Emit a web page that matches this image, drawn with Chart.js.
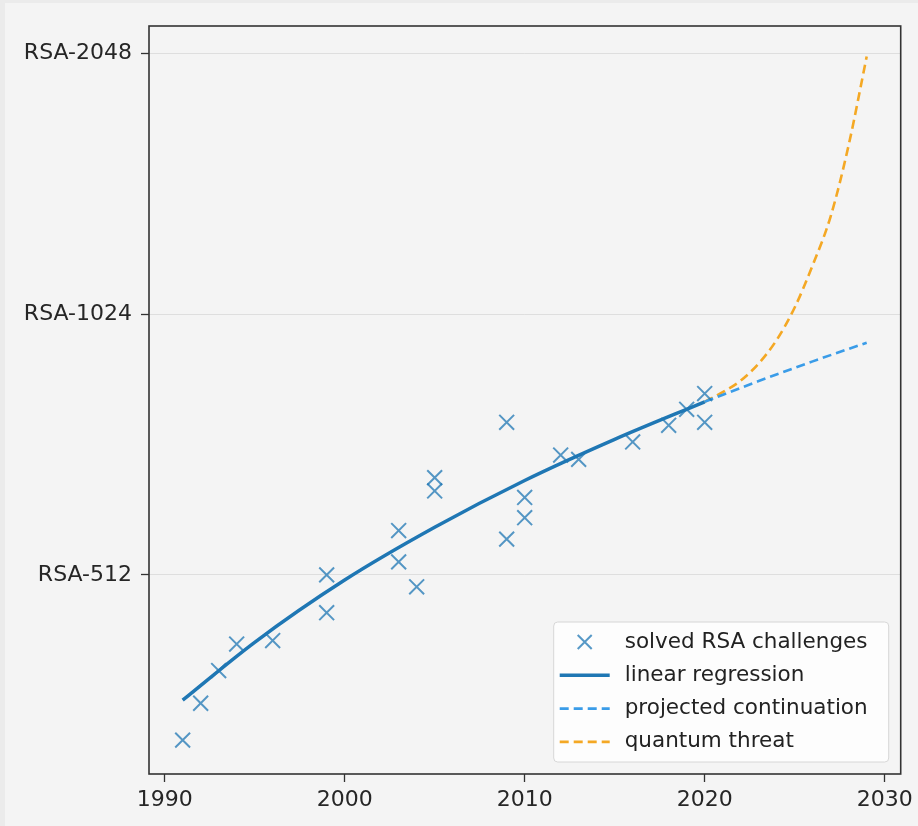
<html>
<head>
  <script src="https://cdn.jsdelivr.net/npm/chart.js@4.4.1/dist/chart.umd.min.js"></script>
  <style>
    body { margin:0; background:#ebebeb; }
    #wrap { position:absolute; left:5px; top:3px; width:913px; height:823px; background:#f4f4f4; }
  </style>
</head>
<body>
  <div id="wrap"><canvas id="rsa" width="913" height="823"></canvas></div>

  <script>
  // solved RSA challenges (year, key size in bits)
  var solvedYears = [1991, 1992, 1993, 1994, 1996, 1999, 1999, 2003, 2003, 2004, 2005, 2005,
                     2009, 2009, 2010, 2010, 2012, 2013, 2016, 2018, 2019, 2020, 2020];
  var solvedBits  = [330, 364, 397, 426, 430, 463, 512, 530, 576, 496, 663, 640,
                     768, 563, 596, 629, 704, 696, 729, 762, 795, 829, 768];

  // regression line
  var regYears = [1991, 1995, 2000, 2005, 2010, 2015, 2020];
  var regBits  = [367, 428, 505, 581, 658, 734, 811];

  // projected continuation
  var projYears = [2020, 2023, 2026, 2029];
  var projBits  = [811, 857, 903, 949];

  // quantum threat
  var qYears = [2020, 2021, 2022, 2023, 2024, 2025, 2026, 2027, 2028, 2029];
  var qBits  = [811, 832, 858, 898, 956, 1042, 1166, 1328, 1605, 2030];

  var yTickValues = [512, 1024, 2048];
  var yTickLabels = ['RSA-512', 'RSA-1024', 'RSA-2048'];
  var xTickValues = [1990, 2000, 2010, 2020, 2030];

  function pts(xs, ys) {
    return xs.map(function (x, i) { return {x: x, y: ys[i]}; });
  }

  var FONT = 'DejaVu Sans';

  // axes frame on all four sides
  var frame = {
    id: 'frame',
    afterDraw: function (chart) {
      var a = chart.chartArea, ctx = chart.ctx;
      ctx.save();
      ctx.strokeStyle = '#333';
      ctx.lineWidth = 1.6;
      ctx.strokeRect(a.left, a.top, a.right - a.left, a.bottom - a.top);
      ctx.restore();
    }
  };

  // matplotlib style legend in the lower right corner
  var legendBox = {
    id: 'legendBox',
    afterDraw: function (chart) {
      var ctx = chart.ctx, a = chart.chartArea;
      var w = 335, h = 140;
      var x0 = a.right - 12 - w, y0 = a.bottom - 12 - h;
      ctx.save();
      ctx.beginPath();
      ctx.roundRect(x0, y0, w, h, 4);
      ctx.fillStyle = 'rgba(255,255,255,0.8)';
      ctx.fill();
      ctx.strokeStyle = '#d6d6d6';
      ctx.lineWidth = 1;
      ctx.stroke();
      ctx.font = '21.5px "' + FONT + '"';
      ctx.textBaseline = 'middle';
      chart.data.datasets.forEach(function (ds, i) {
        var cy = y0 + 20 + i * 33.3;
        var hx = x0 + 6, hw = 50;
        if (ds.showLine === false) {
          var cx = hx + hw / 2, r = 7;
          ctx.strokeStyle = ds.borderColor;
          ctx.lineWidth = 2;
          ctx.setLineDash([]);
          ctx.beginPath();
          ctx.moveTo(cx - r, cy - r); ctx.lineTo(cx + r, cy + r);
          ctx.moveTo(cx - r, cy + r); ctx.lineTo(cx + r, cy - r);
          ctx.stroke();
        } else {
          ctx.strokeStyle = ds.borderColor;
          ctx.lineWidth = ds.borderWidth;
          ctx.setLineDash(ds.borderDash || []);
          ctx.beginPath();
          ctx.moveTo(hx, cy); ctx.lineTo(hx + hw, cy);
          ctx.stroke();
        }
        ctx.setLineDash([]);
        ctx.fillStyle = '#222';
        ctx.fillText(ds.label, x0 + 71, cy);
      });
      ctx.restore();
    }
  };

  new Chart(document.getElementById('rsa'), {
    type: 'scatter',
    data: {
      datasets: [
        {
          label: 'solved RSA challenges',
          data: pts(solvedYears, solvedBits),
          showLine: false,
          pointStyle: 'crossRot',
          pointRadius: 10.5,
          pointBorderWidth: 2,
          borderColor: 'rgba(31,119,180,0.75)',
          backgroundColor: 'rgba(31,119,180,0.75)'
        },
        {
          label: 'linear regression',
          data: pts(regYears, regBits),
          showLine: true,
          pointRadius: 0,
          borderColor: '#1f77b4',
          borderWidth: 3.5,
          cubicInterpolationMode: 'monotone'
        },
        {
          label: 'projected continuation',
          data: pts(projYears, projBits),
          showLine: true,
          pointRadius: 0,
          borderColor: '#3a9ce8',
          borderWidth: 2.6,
          borderDash: [9, 5],
          cubicInterpolationMode: 'monotone'
        },
        {
          label: 'quantum threat',
          data: pts(qYears, qBits),
          showLine: true,
          pointRadius: 0,
          borderColor: '#f4a824',
          borderWidth: 2.6,
          borderDash: [9, 5],
          cubicInterpolationMode: 'monotone'
        }
      ]
    },
    options: {
      responsive: false,
      animation: false,
      layout: { padding: { top: 23, right: 15, left: 0, bottom: 0 } },
      plugins: { legend: { display: false }, tooltip: { enabled: false } },
      scales: {
        x: {
          type: 'linear',
          min: 1989.13,
          max: 2030.89,
          afterBuildTicks: function (scale) {
            scale.ticks = xTickValues.map(function (v) { return {value: v}; });
          },
          afterFit: function (scale) { scale.height = 52; },
          grid: { drawOnChartArea: false, drawTicks: true, tickLength: 8, tickColor: '#333', tickWidth: 1.3 },
          border: { display: false },
          ticks: { color: '#262626', font: { family: FONT, size: 22 }, padding: 5, maxRotation: 0,
                   callback: function (v) { return String(v); } }
        },
        y: {
          type: 'logarithmic',
          min: 301.6,
          max: 2202,
          afterBuildTicks: function (scale) {
            scale.ticks = yTickValues.map(function (v) { return {value: v}; });
          },
          afterFit: function (scale) { scale.width = 144; },
          grid: { color: '#dedede', lineWidth: 1, drawTicks: true, tickLength: 8, tickColor: '#333', tickWidth: 1.3 },
          border: { display: false },
          ticks: { color: '#262626', font: { family: FONT, size: 22 }, padding: 9,
                   callback: function (v) { return yTickLabels[yTickValues.indexOf(v)]; } }
        }
      }
    },
    plugins: [frame, legendBox]
  });
  </script>
</body>
</html>
